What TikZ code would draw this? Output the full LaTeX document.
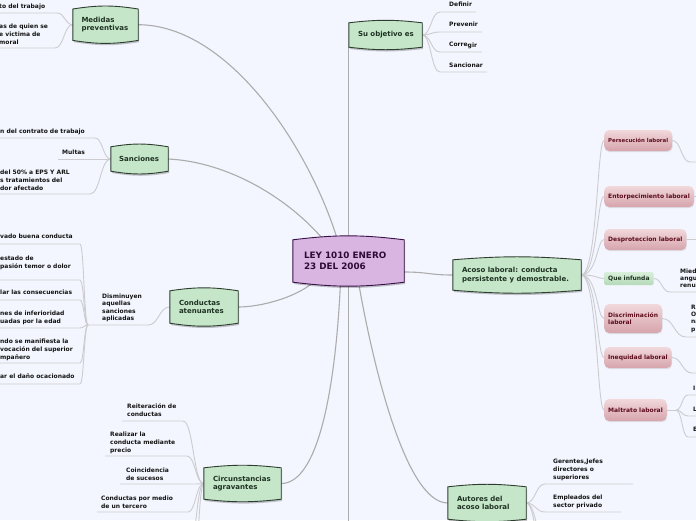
\documentclass[tikz,border=0pt]{standalone}
\usepackage{fontspec}
\setmainfont{DejaVu Sans}
\usetikzlibrary{calc,shadows}
\definecolor{bgc}{RGB}{243,246,254}
\definecolor{gfill}{RGB}{198,230,201}
\definecolor{gdraw}{RGB}{45,62,48}
\definecolor{gtext}{RGB}{30,50,34}
\definecolor{pfill}{RGB}{217,181,225}
\definecolor{pdraw}{RGB}{58,16,72}
\definecolor{ptext}{RGB}{45,10,56}
\definecolor{rtop}{RGB}{241,216,219}
\definecolor{rbot}{RGB}{214,164,172}
\definecolor{rtext}{RGB}{94,14,30}
\definecolor{qtop}{RGB}{217,239,218}
\definecolor{qbot}{RGB}{181,218,184}
\definecolor{mainline}{RGB}{172,172,172}
\definecolor{leafline}{RGB}{204,204,208}
\definecolor{leaftext}{RGB}{20,20,20}
\pgfdeclarelayer{bg}\pgfdeclarelayer{lines}\pgfsetlayers{bg,lines,main}
\newcommand\drawbarrel[4]{%
 \fill[black,opacity=0.22] ([shift={(1,1.8)}]#1.north west) to[bend left=#4] ([shift={(1,1.8)}]#1.north east) -- ([shift={(1,1.8)}]#1.south east) to[bend left=#4] ([shift={(1,1.8)}]#1.south west) -- cycle;
 \draw[fill=#2,draw=#3,line width=0.9pt] (#1.north west) to[bend left=#4] (#1.north east) -- (#1.south east) to[bend left=#4] (#1.south west) -- cycle;}
\begin{document}
\begin{tikzpicture}[x=1pt,y=-1pt,
 mainc/.style={draw=mainline,line width=1.1pt},
 leafc/.style={draw=leafline,line width=0.9pt},
 boxnode/.style={inner sep=0pt,draw=none},
 gtxt/.style={anchor=west,inner sep=0pt,align=left,text=gtext,font=\fontsize{7}{8.5}\selectfont\bfseries},
 ctxt/.style={anchor=west,inner sep=0pt,align=left,text=ptext,font=\fontsize{8.8}{11}\selectfont\bfseries},
 leaf/.style={anchor=north west,inner sep=0pt,align=left,text=leaftext,font=\fontsize{6}{8}\selectfont\bfseries},
 pnode/.style={anchor=west,inner xsep=4pt,inner ysep=0pt,rounded corners=5pt,top color=rtop,bottom color=rbot,text=rtext,align=left,font=\fontsize{6}{7.5}\selectfont\bfseries,drop shadow={opacity=0.18,shadow xshift=0.5pt,shadow yshift=-1.2pt}},
 qnode/.style={anchor=west,inner xsep=4pt,inner ysep=0pt,rounded corners=1.5pt,top color=qtop,bottom color=qbot,text=gtext,font=\fontsize{6}{7.5}\selectfont\bfseries},
 hc/.style={to path={let \p1=(\tikztostart), \p2=(\tikztotarget) in .. controls ({\x1+(\x2-\x1)*#1},\y1) and ({\x1+(\x2-\x1)*#1},\y2) .. (\tikztotarget)}},
 hc/.default=0.5]
\useasboundingbox (0,0) rectangle (696,520);
\begin{pgfonlayer}{bg}\fill[bgc] (0,0) rectangle (696,520);\end{pgfonlayer}

% central
\node[boxnode,minimum width=111pt,minimum height=42pt] (ley) at (348.5,261) {};
\drawbarrel{ley}{pfill}{pdraw}{7}
\node[ctxt] (leyT) at ([xshift=11pt]ley.west) {LEY 1010 ENERO\\23 DEL 2006};

% green topic boxes
\node[boxnode,minimum width=65pt,minimum height=31pt] (med) at (105.5,24.7) {};
\drawbarrel{med}{gfill}{gdraw}{9}
\node[gtxt] (medT) at ([xshift=8.5pt]med.west) {Medidas\\preventivas};

\node[boxnode,minimum width=57pt,minimum height=24pt] (san) at (139.5,159) {};
\drawbarrel{san}{gfill}{gdraw}{9.5}
\node[gtxt] (sanT) at ([xshift=8pt]san.west) {Sanciones};

\node[boxnode,minimum width=68pt,minimum height=32pt] (ate) at (204,307) {};
\drawbarrel{ate}{gfill}{gdraw}{8.6}
\node[gtxt] (ateT) at ([xshift=9pt]ate.west) {Conductas\\atenuantes};

\node[boxnode,minimum width=77pt,minimum height=31pt] (cir) at (242.5,483.5) {};
\drawbarrel{cir}{gfill}{gdraw}{6.5}
\node[gtxt] (cirT) at ([xshift=9pt]cir.west) {Circunstancias\\agravantes};

\node[boxnode,minimum width=73pt,minimum height=24pt] (obj) at (385.5,35) {};
\drawbarrel{obj}{gfill}{gdraw}{6.7}
\node[gtxt] (objT) at ([xshift=9pt]obj.west) {Su objetivo es};

\node[boxnode,minimum width=128pt,minimum height=30pt] (aco) at (517,275) {};
\drawbarrel{aco}{gfill}{gdraw}{4.6}
\node[gtxt] (acoT) at ([xshift=9pt]aco.west) {Acoso laboral: conducta\\persistente y demostrable.};

\node[boxnode,minimum width=78pt,minimum height=32pt] (aut) at (487,503) {};
\drawbarrel{aut}{gfill}{gdraw}{6.3}
\node[gtxt] (autT) at ([xshift=9pt]aut.west) {Autores del\\acoso laboral};

% pink nodes
\node[pnode,minimum height=21pt,font=\fontsize{5.4}{6.5}\selectfont\bfseries] (p1) at (604,140.5) {Persecución laboral};
\node[pnode,minimum height=21pt] (p2) at (604,196.5) {Entorpecimiento laboral};
\node[pnode,minimum height=21pt] (p3) at (604,239.5) {Desproteccion laboral};
\node[qnode,minimum height=13pt] (q) at (604,278.5) {Que infunda};
\node[pnode,minimum height=29pt] (p4) at (604,318.5) {Discriminación\\laboral};
\node[pnode,minimum height=21pt] (p5) at (604,357.5) {Inequidad laboral};
\node[pnode,minimum height=22pt] (p6) at (604,410) {Maltrato laboral};

% leaves
\node[leaf] (m1) at (-1,3.5) {to del trabajo};
\node[leaf] (m2) at (-1,23.5) {as de quien se\\e victima de\\moral};
\node[leaf] (s1) at (0,128.5) {n del contrato de trabajo};
\node[leaf] (s2) at (62,149.5) {Multas};
\node[leaf] (s3) at (0,169.5) {del 50\% a EPS Y ARL\\s tratamientos del\\dor afectado};
\node[leaf,font=\fontsize{6}{7.4}\selectfont\bfseries] (d) at (102,293.5) {Disminuyen\\aquellas\\sanciones\\aplicadas};
\node[leaf] (a1) at (0,233.5) {vado buena conducta};
\node[leaf] (a2) at (0,255.5) {estado de\\pasión temor o dolor};
\node[leaf] (a3) at (0,289.5) {lar las consecuencias};
\node[leaf] (a4) at (0,310.5) {nes de inferioridad\\uadas por la edad};
\node[leaf] (a5) at (0,338.5) {ndo se manifiesta la\\vocación del superior\\mpañero};
\node[leaf] (a6) at (0,373.5) {ar el daño ocacionado};
\node[leaf] (c1) at (127,403.5) {Reiteración de\\conductas};
\node[leaf] (c2) at (110,431.5) {Realizar la\\conducta mediante\\precio};
\node[leaf] (c3) at (126,467.5) {Coincidencia\\de sucesos};
\node[leaf] (c4) at (101,495.5) {Conductas por medio\\de un tercero};
\node[leaf] (o1) at (449,1.5) {Definir};
\node[leaf] (o2) at (449,21.5) {Prevenir};
\node[leaf] (o3) at (449,41.5) {Corre\raisebox{-1.3pt}{gir}};
\node[leaf] (o4) at (449,62.5) {Sancionar};
\node[leaf,font=\fontsize{6}{7}\selectfont\bfseries] (qt) at (680,268.5) {Mied\\angu\\renu};
\node[leaf,font=\fontsize{6}{7.4}\selectfont\bfseries] (p4t) at (691,304.5) {Ra\\O\\na\\p};
\node[leaf] (l1) at (693,385.5) {I};
\node[leaf] (l2) at (693,406.5) {L};
\node[leaf] (l3) at (693,426.5) {E};
\node[leaf] (g1) at (553,458.5) {Gerentes,Jefes\\directores o\\superiores};
\node[leaf] (g2) at (553,494.5) {Empleados del\\sector privado};

% coordinates
\coordinate (m1i) at (57,13); \coordinate (m1o) at (-5,13);
\coordinate (m2i) at (55,48); \coordinate (m2o) at (-5,48);
\coordinate (s1i) at (95,138); \coordinate (s1o) at (-5,138);
\coordinate (s2o) at (58,159);
\coordinate (s3i) at (90,194); \coordinate (s3o) at (-5,194);
\coordinate (di) at (148,325); \coordinate (dbr) at (88,325);
\coordinate (ai1) at (80,244); \coordinate (ao1) at (-5,244);
\coordinate (ai2) at (80,280); \coordinate (ao2) at (-5,280);
\coordinate (ai3) at (80,300); \coordinate (ao3) at (-5,300);
\coordinate (ai4) at (80,328); \coordinate (ao4) at (-5,328);
\coordinate (ai5) at (80,363); \coordinate (ao5) at (-5,363);
\coordinate (ai6) at (80,384); \coordinate (ao6) at (-5,384);
\coordinate (c1i) at (183,421); \coordinate (c1o) at (122,421);
\coordinate (c2i) at (187,456); \coordinate (c2o) at (105,456);
\coordinate (c3i) at (196,484); \coordinate (c3o) at (120,484);
\coordinate (c4i) at (188,512); \coordinate (c4o) at (97,512);
\coordinate (c5i) at (189,548); \coordinate (c6i) at (192,595);
\coordinate (o1i) at (440,12); \coordinate (o1o) at (476,12);
\coordinate (o2i) at (440,32); \coordinate (o2o) at (482,32);
\coordinate (o3i) at (440,52); \coordinate (o3o) at (482,52);
\coordinate (o4i) at (440,72); \coordinate (o4o) at (487,72);
\coordinate (p1k) at (690,162); \coordinate (p1o) at (710,162);
\coordinate (p2o) at (710,196.5);
\coordinate (p3o) at (710,239.5);
\coordinate (qi) at (670,292); \coordinate (qo) at (710,292);
\coordinate (p4k) at (686,337); \coordinate (p4o) at (710,337);
\coordinate (p5k) at (692,373); \coordinate (p5o) at (710,373);
\coordinate (p6b) at (676,410);
\coordinate (l1i) at (688,395); \coordinate (l1o) at (710,395);
\coordinate (l2i) at (688,416); \coordinate (l2o) at (710,416);
\coordinate (l3i) at (688,437); \coordinate (l3o) at (710,437);
\coordinate (g1i) at (545,484); \coordinate (g1o) at (633,484);
\coordinate (g2i) at (545,512); \coordinate (g2o) at (621,512);
\coordinate (g3i) at (548,550); \coordinate (g4i) at (550,595);
\coordinate (bot) at (348.5,560);

\begin{pgfonlayer}{lines}
% central connectors
\draw[mainc] (med.east) .. controls (230,25) and (310,150) .. ([xshift=-11pt]ley.north);
\draw[mainc] (san.east) .. controls (230,162) and (290,200) .. ([xshift=-25pt]ley.north);
\draw[mainc] (obj.south west) -- (obj.south west |- ley.north);
\draw[mainc] ([yshift=-11pt]ley.east) to[hc] (aco.west);
\draw[mainc] ([xshift=-35pt]ley.south) .. controls (295,298) and (260,307) .. (ate.east);
\draw[mainc] ([xshift=-8pt]ley.south) .. controls (336,380) and (320,483.5) .. (cir.east);
\draw[mainc] ([xshift=10pt]ley.south) .. controls (372,360) and (405,503) .. (aut.west);
\draw[mainc,line width=1.6pt] (ley.south) -- (bot);
% medidas
\draw[leafc] (med.west) to[hc] (m1i) -- (m1o);
\draw[leafc] (med.west) to[hc] (m2i) -- (m2o);
% sanciones
\draw[leafc] (san.west) to[hc] (s1i) -- (s1o);
\draw[leafc] (san.west) -- (s2o);
\draw[leafc] (san.west) to[hc] (s3i) -- (s3o);
% atenuantes
\draw[leafc] (ate.west) to[hc] (di) -- (dbr);
\draw[leafc] (dbr) to[hc] (ai1) -- (ao1);
\draw[leafc] (dbr) to[hc] (ai2) -- (ao2);
\draw[leafc] (dbr) to[hc] (ai3) -- (ao3);
\draw[leafc] (dbr) to[hc] (ai4) -- (ao4);
\draw[leafc] (dbr) to[hc] (ai5) -- (ao5);
\draw[leafc] (dbr) to[hc] (ai6) -- (ao6);
% circunstancias
\draw[leafc] (cir.west) to[hc] (c1i) -- (c1o);
\draw[leafc] (cir.west) to[hc] (c2i) -- (c2o);
\draw[leafc] (cir.west) to[hc] (c3i) -- (c3o);
\draw[leafc] (cir.west) to[hc] (c4i) -- (c4o);
\draw[leafc] (cir.west) to[hc] (c5i);
\draw[leafc] (cir.west) to[hc] (c6i);
% objetivo
\draw[leafc] (obj.east) to[hc] (o1i) -- (o1o);
\draw[leafc] (obj.east) to[hc] (o2i) -- (o2o);
\draw[leafc] (obj.east) to[hc] (o3i) -- (o3o);
\draw[leafc] (obj.east) to[hc] (o4i) -- (o4o);
% acoso
\draw[leafc] (aco.east) to[hc=0.7] (p1.west);
\draw[leafc] (aco.east) to[hc=0.7] (p2.west);
\draw[leafc] (aco.east) to[hc=0.7] (p3.west);
\draw[leafc] (aco.east) to[hc=0.7] (q.west);
\draw[leafc] (aco.east) to[hc=0.7] (p4.west);
\draw[leafc] (aco.east) to[hc=0.7] (p5.west);
\draw[leafc] (aco.east) to[hc=0.7] (p6.west);
\draw[leafc] (p1.east) to[hc] (p1k) -- (p1o);
\draw[leafc] (p2.east) -- (p2o);
\draw[leafc] (p3.east) -- (p3o);
\draw[leafc] (q.east) to[hc] (qi) -- (qo);
\draw[leafc] (p4.east) to[hc] (p4k) -- (p4o);
\draw[leafc] (p5.east) to[hc] (p5k) -- (p5o);
\draw[leafc] (p6.east) -- (p6b);
\draw[leafc] (p6b) to[hc] (l1i) -- (l1o);
\draw[leafc] (p6b) to[hc] (l2i) -- (l2o);
\draw[leafc] (p6b) to[hc] (l3i) -- (l3o);
% autores
\draw[leafc] (aut.east) to[hc] (g1i) -- (g1o);
\draw[leafc] (aut.east) to[hc] (g2i) -- (g2o);
\draw[leafc] (aut.east) to[hc] (g3i);
\draw[leafc] (aut.east) to[hc] (g4i);
\end{pgfonlayer}
\end{tikzpicture}
\end{document}
